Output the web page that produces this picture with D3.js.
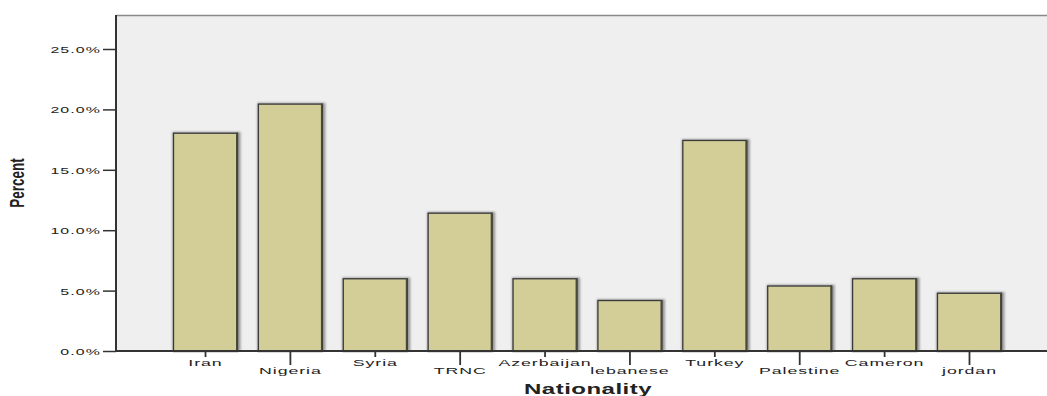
<!DOCTYPE html>
<html>
<head>
<meta charset="utf-8">
<script src="https://cdn.jsdelivr.net/npm/d3@7"></script>
<style>
  html, body { margin: 0; padding: 0; background: #fff; }
  svg { display: block; }
  text { font-family: "Liberation Sans", Arial, sans-serif; fill: #222; }
</style>
</head>
<body>
<svg id="chart" width="1047" height="396"></svg>
<script>
// Nationality distribution of respondents (percent)
const categories = ["Iran", "Nigeria", "Syria", "TRNC", "Azerbaijan", "lebanese", "Turkey", "Palestine", "Cameron", "jordan"];
const percents   = [18.07, 20.48, 6.02, 11.45, 6.02, 4.22, 17.47, 5.42, 6.02, 4.82];
const yTicks     = [0, 5, 10, 15, 20, 25];

const svg = d3.select("#chart");
const plot = { left: 116, top: 15, right: 1047, bottom: 351 };
const SX = 1.85; // horizontal glyph stretch used by the labels

const y = d3.scaleLinear().domain([0, 25]).range([plot.bottom, 49]);
const x = d3.scaleBand().domain(categories).range([173, 1002])
  .paddingInner(0.234).paddingOuter(0);

const defs = svg.append("defs");
defs.append("filter").attr("id", "soft")
  .attr("x", "-10%").attr("y", "-10%").attr("width", "120%").attr("height", "120%")
  .append("feGaussianBlur").attr("stdDeviation", 0.8);

// plot background
svg.append("rect")
  .attr("x", plot.left).attr("y", plot.top)
  .attr("width", plot.right - plot.left).attr("height", plot.bottom - plot.top)
  .attr("fill", "#efefef");
svg.append("line")
  .attr("x1", plot.left).attr("x2", plot.right)
  .attr("y1", plot.top + 0.5).attr("y2", plot.top + 0.5)
  .attr("stroke", "#8a8a8a").attr("stroke-width", 1.5);

// bars
const bars = svg.append("g").selectAll("g").data(categories).join("g");
bars.append("rect") // soft shadow, heavier on the right
  .attr("x", d => x(d) - 0.5)
  .attr("y", (d, i) => y(percents[i]) - 0.8)
  .attr("width", x.bandwidth() + 3)
  .attr("height", (d, i) => plot.bottom - y(percents[i]) + 0.8)
  .attr("fill", "#999")
  .attr("filter", "url(#soft)");
bars.append("rect")
  .attr("x", d => x(d) + 0.5)
  .attr("y", (d, i) => y(percents[i]) + 0.5)
  .attr("width", x.bandwidth() - 1)
  .attr("height", (d, i) => plot.bottom - y(percents[i]))
  .attr("fill", "#d3cd97")
  .attr("stroke", "#3a3a3a")
  .attr("stroke-width", 1.3);
bars.append("line") // darker right edge
  .attr("x1", d => x(d) + x.bandwidth() - 1.2)
  .attr("x2", d => x(d) + x.bandwidth() - 1.2)
  .attr("y1", (d, i) => y(percents[i]))
  .attr("y2", plot.bottom)
  .attr("stroke", "#4a4a3a").attr("stroke-width", 1.6);

// y axis
const yAxis = svg.append("g")
  .attr("transform", `translate(${plot.left},0)`)
  .call(d3.axisLeft(y).tickValues(yTicks).tickSize(13).tickFormat(d => d3.format(".1f")(d) + "%"));
yAxis.select(".domain").remove();
yAxis.selectAll(".tick line").attr("stroke", "#333").attr("stroke-width", 1.5);
yAxis.selectAll(".tick text")
  .attr("x", null).attr("dy", null)
  .attr("text-anchor", "end")
  .attr("transform", "translate(-15,3.5) scale(" + SX + ",1)")
  .style("font-size", "8.6px")
  .style("letter-spacing", "0.6px")
  .attr("fill", "#222");
svg.append("line")
  .attr("x1", plot.left).attr("x2", plot.left)
  .attr("y1", plot.top).attr("y2", plot.bottom)
  .attr("stroke", "#333").attr("stroke-width", 2);

// x axis
svg.append("line")
  .attr("x1", plot.left).attr("x2", plot.right)
  .attr("y1", plot.bottom).attr("y2", plot.bottom)
  .attr("stroke", "#333").attr("stroke-width", 1.8);
const xt = svg.append("g").selectAll("g").data(categories).join("g")
  .attr("transform", d => `translate(${x(d) + x.bandwidth() / 2},${plot.bottom})`);
xt.append("line")
  .attr("y1", 0).attr("y2", (d, i) => i % 2 ? 14 : 6)
  .attr("stroke", "#333").attr("stroke-width", 1.8);
xt.append("text")
  .attr("text-anchor", "middle")
  .attr("transform", (d, i) => `translate(0,${i % 2 ? 22.5 : 14.5}) scale(${SX},1)`)
  .style("font-size", "9.6px")
  .style("letter-spacing", "0.5px")
  .text(d => d);

// axis titles
svg.append("text")
  .attr("text-anchor", "middle")
  .attr("transform", "translate(24,183) scale(1.45,1) rotate(-90)")
  .style("font-size", "13.5px").style("font-weight", "bold")
  .style("font-family", "'Liberation Sans Narrow', 'Liberation Sans', Arial, sans-serif")
  .text("Percent");
svg.append("text")
  .attr("text-anchor", "middle")
  .attr("transform", "translate(588,394) scale(1.6,1)")
  .style("font-size", "15px").style("font-weight", "bold")
  .style("letter-spacing", "0.3px")
  .text("Nationality");
</script>
</body>
</html>
